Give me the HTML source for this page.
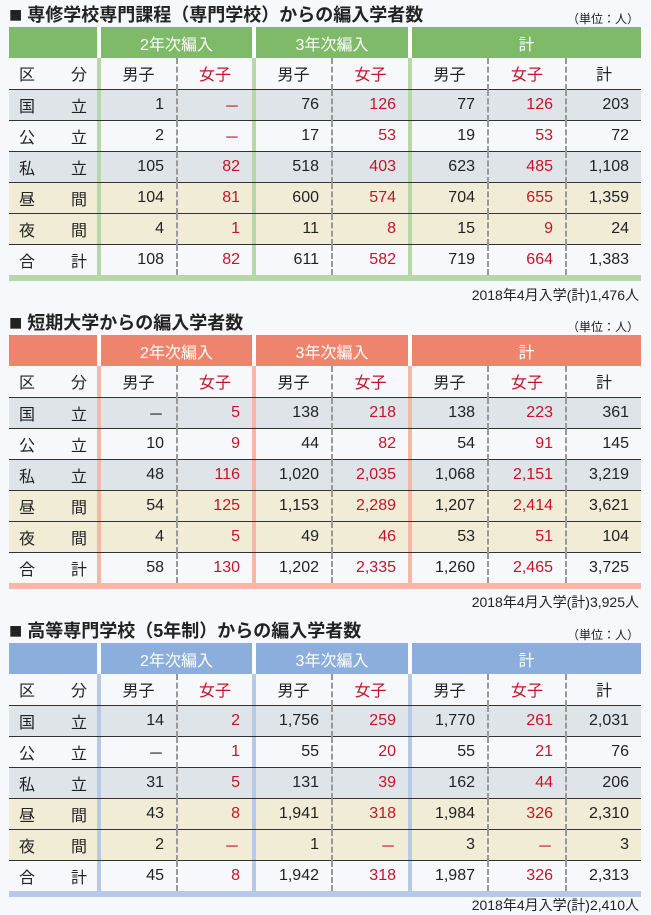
<!DOCTYPE html><html><head><meta charset="utf-8"><style>
*{margin:0;padding:0;box-sizing:border-box}
body{width:651px;height:915px;background:#f7f8fc;font-family:"Liberation Sans","Noto Sans CJK JP",sans-serif;color:#222;position:relative;overflow:hidden}
.t{position:absolute;left:9px;font-weight:bold;font-size:18px;color:#222;white-space:nowrap;line-height:22px}
.t b{font-size:22px;vertical-align:-1px}
.u{position:absolute;right:12px;font-size:12px;color:#222}
.f{position:absolute;right:12px;font-size:14px;color:#222}
table{position:absolute;left:9px;width:632px;border-collapse:collapse;table-layout:fixed;font-size:16px}
td{height:31px;padding:0 12px 0 0;text-align:right;white-space:nowrap}
tr.h td{height:31px;color:#fff;text-align:center;padding:0;font-size:16px}
tr.h td.g{background:#fff}
tr.s td{text-align:center;padding:0}
td.l{text-align:left;padding:0 0 0 10px;word-spacing:0}
td.l span{display:inline-block;width:68px;text-align:justify;text-align-last:justify}
tr.r td{border-top:1px solid #333}
td.d{padding:0}
.x{border-left:2px dashed #999}
.rd{color:#c0162a}
tr.b td{height:6px;padding:0}
tr.gy td{background:#dfe4e9}
tr.by td{background:#f0ecd6}
</style></head><body>

<div class="t" style="top:4px"><b>■</b> 専修学校専門課程（専門学校）からの編入学者数</div>
<div class="u" style="top:10px">（単位：人）</div>
<table style="top:27px">
<colgroup><col style="width:88px"><col style="width:4px"><col style="width:76px"><col style="width:75px"><col style="width:4px"><col style="width:76px"><col style="width:76px"><col style="width:4px"><col style="width:76px"><col style="width:78px"><col style="width:75px"></colgroup>
<tr class="h"><td style="background:#7fba68"></td><td class="g"></td><td colspan="2" style="background:#7fba68">2年次編入</td><td class="g"></td><td colspan="2" style="background:#7fba68">3年次編入</td><td class="g"></td><td colspan="3" style="background:#7fba68">計</td></tr>
<tr class="s"><td class="l"><span>区分</span></td><td class="d" style="background:#b7d7a8"></td><td>男子</td><td class="x rd">女子</td><td class="d" style="background:#b7d7a8"></td><td>男子</td><td class="x rd">女子</td><td class="d" style="background:#b7d7a8"></td><td>男子</td><td class="x rd">女子</td><td class="x">計</td></tr>
<tr class="r gy"><td class="l"><span>国立</span></td><td class="d" style="background:#b7d7a8"></td><td>1</td><td class="x rd">－</td><td class="d" style="background:#b7d7a8"></td><td>76</td><td class="x rd">126</td><td class="d" style="background:#b7d7a8"></td><td>77</td><td class="x rd">126</td><td class="x">203</td></tr>
<tr class="r"><td class="l"><span>公立</span></td><td class="d" style="background:#b7d7a8"></td><td>2</td><td class="x rd">－</td><td class="d" style="background:#b7d7a8"></td><td>17</td><td class="x rd">53</td><td class="d" style="background:#b7d7a8"></td><td>19</td><td class="x rd">53</td><td class="x">72</td></tr>
<tr class="r gy"><td class="l"><span>私立</span></td><td class="d" style="background:#b7d7a8"></td><td>105</td><td class="x rd">82</td><td class="d" style="background:#b7d7a8"></td><td>518</td><td class="x rd">403</td><td class="d" style="background:#b7d7a8"></td><td>623</td><td class="x rd">485</td><td class="x">1,108</td></tr>
<tr class="r by"><td class="l"><span>昼間</span></td><td class="d" style="background:#b7d7a8"></td><td>104</td><td class="x rd">81</td><td class="d" style="background:#b7d7a8"></td><td>600</td><td class="x rd">574</td><td class="d" style="background:#b7d7a8"></td><td>704</td><td class="x rd">655</td><td class="x">1,359</td></tr>
<tr class="r by"><td class="l"><span>夜間</span></td><td class="d" style="background:#b7d7a8"></td><td>4</td><td class="x rd">1</td><td class="d" style="background:#b7d7a8"></td><td>11</td><td class="x rd">8</td><td class="d" style="background:#b7d7a8"></td><td>15</td><td class="x rd">9</td><td class="x">24</td></tr>
<tr class="r"><td class="l"><span>合計</span></td><td class="d" style="background:#b7d7a8"></td><td>108</td><td class="x rd">82</td><td class="d" style="background:#b7d7a8"></td><td>611</td><td class="x rd">582</td><td class="d" style="background:#b7d7a8"></td><td>719</td><td class="x rd">664</td><td class="x">1,383</td></tr>
<tr class="b"><td colspan="11" style="background:#b7d7a8"></td></tr>
</table>
<div class="f" style="top:285px">2018年4月入学(計)1,476人</div>

<div class="t" style="top:312px"><b>■</b> 短期大学からの編入学者数</div>
<div class="u" style="top:318px">（単位：人）</div>
<table style="top:335px">
<colgroup><col style="width:88px"><col style="width:4px"><col style="width:76px"><col style="width:75px"><col style="width:4px"><col style="width:76px"><col style="width:76px"><col style="width:4px"><col style="width:76px"><col style="width:78px"><col style="width:75px"></colgroup>
<tr class="h"><td style="background:#ef846e"></td><td class="g"></td><td colspan="2" style="background:#ef846e">2年次編入</td><td class="g"></td><td colspan="2" style="background:#ef846e">3年次編入</td><td class="g"></td><td colspan="3" style="background:#ef846e">計</td></tr>
<tr class="s"><td class="l"><span>区分</span></td><td class="d" style="background:#f6b8a6"></td><td>男子</td><td class="x rd">女子</td><td class="d" style="background:#f6b8a6"></td><td>男子</td><td class="x rd">女子</td><td class="d" style="background:#f6b8a6"></td><td>男子</td><td class="x rd">女子</td><td class="x">計</td></tr>
<tr class="r gy"><td class="l"><span>国立</span></td><td class="d" style="background:#f6b8a6"></td><td>－</td><td class="x rd">5</td><td class="d" style="background:#f6b8a6"></td><td>138</td><td class="x rd">218</td><td class="d" style="background:#f6b8a6"></td><td>138</td><td class="x rd">223</td><td class="x">361</td></tr>
<tr class="r"><td class="l"><span>公立</span></td><td class="d" style="background:#f6b8a6"></td><td>10</td><td class="x rd">9</td><td class="d" style="background:#f6b8a6"></td><td>44</td><td class="x rd">82</td><td class="d" style="background:#f6b8a6"></td><td>54</td><td class="x rd">91</td><td class="x">145</td></tr>
<tr class="r gy"><td class="l"><span>私立</span></td><td class="d" style="background:#f6b8a6"></td><td>48</td><td class="x rd">116</td><td class="d" style="background:#f6b8a6"></td><td>1,020</td><td class="x rd">2,035</td><td class="d" style="background:#f6b8a6"></td><td>1,068</td><td class="x rd">2,151</td><td class="x">3,219</td></tr>
<tr class="r by"><td class="l"><span>昼間</span></td><td class="d" style="background:#f6b8a6"></td><td>54</td><td class="x rd">125</td><td class="d" style="background:#f6b8a6"></td><td>1,153</td><td class="x rd">2,289</td><td class="d" style="background:#f6b8a6"></td><td>1,207</td><td class="x rd">2,414</td><td class="x">3,621</td></tr>
<tr class="r by"><td class="l"><span>夜間</span></td><td class="d" style="background:#f6b8a6"></td><td>4</td><td class="x rd">5</td><td class="d" style="background:#f6b8a6"></td><td>49</td><td class="x rd">46</td><td class="d" style="background:#f6b8a6"></td><td>53</td><td class="x rd">51</td><td class="x">104</td></tr>
<tr class="r"><td class="l"><span>合計</span></td><td class="d" style="background:#f6b8a6"></td><td>58</td><td class="x rd">130</td><td class="d" style="background:#f6b8a6"></td><td>1,202</td><td class="x rd">2,335</td><td class="d" style="background:#f6b8a6"></td><td>1,260</td><td class="x rd">2,465</td><td class="x">3,725</td></tr>
<tr class="b"><td colspan="11" style="background:#f6b8a6"></td></tr>
</table>
<div class="f" style="top:592px">2018年4月入学(計)3,925人</div>

<div class="t" style="top:620px"><b>■</b> 高等専門学校（5年制）からの編入学者数</div>
<div class="u" style="top:626px">（単位：人）</div>
<table style="top:643px">
<colgroup><col style="width:88px"><col style="width:4px"><col style="width:76px"><col style="width:75px"><col style="width:4px"><col style="width:76px"><col style="width:76px"><col style="width:4px"><col style="width:76px"><col style="width:78px"><col style="width:75px"></colgroup>
<tr class="h"><td style="background:#8caedc"></td><td class="g"></td><td colspan="2" style="background:#8caedc">2年次編入</td><td class="g"></td><td colspan="2" style="background:#8caedc">3年次編入</td><td class="g"></td><td colspan="3" style="background:#8caedc">計</td></tr>
<tr class="s"><td class="l"><span>区分</span></td><td class="d" style="background:#b8c9e8"></td><td>男子</td><td class="x rd">女子</td><td class="d" style="background:#b8c9e8"></td><td>男子</td><td class="x rd">女子</td><td class="d" style="background:#b8c9e8"></td><td>男子</td><td class="x rd">女子</td><td class="x">計</td></tr>
<tr class="r gy"><td class="l"><span>国立</span></td><td class="d" style="background:#b8c9e8"></td><td>14</td><td class="x rd">2</td><td class="d" style="background:#b8c9e8"></td><td>1,756</td><td class="x rd">259</td><td class="d" style="background:#b8c9e8"></td><td>1,770</td><td class="x rd">261</td><td class="x">2,031</td></tr>
<tr class="r"><td class="l"><span>公立</span></td><td class="d" style="background:#b8c9e8"></td><td>－</td><td class="x rd">1</td><td class="d" style="background:#b8c9e8"></td><td>55</td><td class="x rd">20</td><td class="d" style="background:#b8c9e8"></td><td>55</td><td class="x rd">21</td><td class="x">76</td></tr>
<tr class="r gy"><td class="l"><span>私立</span></td><td class="d" style="background:#b8c9e8"></td><td>31</td><td class="x rd">5</td><td class="d" style="background:#b8c9e8"></td><td>131</td><td class="x rd">39</td><td class="d" style="background:#b8c9e8"></td><td>162</td><td class="x rd">44</td><td class="x">206</td></tr>
<tr class="r by"><td class="l"><span>昼間</span></td><td class="d" style="background:#b8c9e8"></td><td>43</td><td class="x rd">8</td><td class="d" style="background:#b8c9e8"></td><td>1,941</td><td class="x rd">318</td><td class="d" style="background:#b8c9e8"></td><td>1,984</td><td class="x rd">326</td><td class="x">2,310</td></tr>
<tr class="r by"><td class="l"><span>夜間</span></td><td class="d" style="background:#b8c9e8"></td><td>2</td><td class="x rd">－</td><td class="d" style="background:#b8c9e8"></td><td>1</td><td class="x rd">－</td><td class="d" style="background:#b8c9e8"></td><td>3</td><td class="x rd">－</td><td class="x">3</td></tr>
<tr class="r"><td class="l"><span>合計</span></td><td class="d" style="background:#b8c9e8"></td><td>45</td><td class="x rd">8</td><td class="d" style="background:#b8c9e8"></td><td>1,942</td><td class="x rd">318</td><td class="d" style="background:#b8c9e8"></td><td>1,987</td><td class="x rd">326</td><td class="x">2,313</td></tr>
<tr class="b"><td colspan="11" style="background:#b8c9e8"></td></tr>
</table>
<div class="f" style="top:895px">2018年4月入学(計)2,410人</div>
</body></html>
